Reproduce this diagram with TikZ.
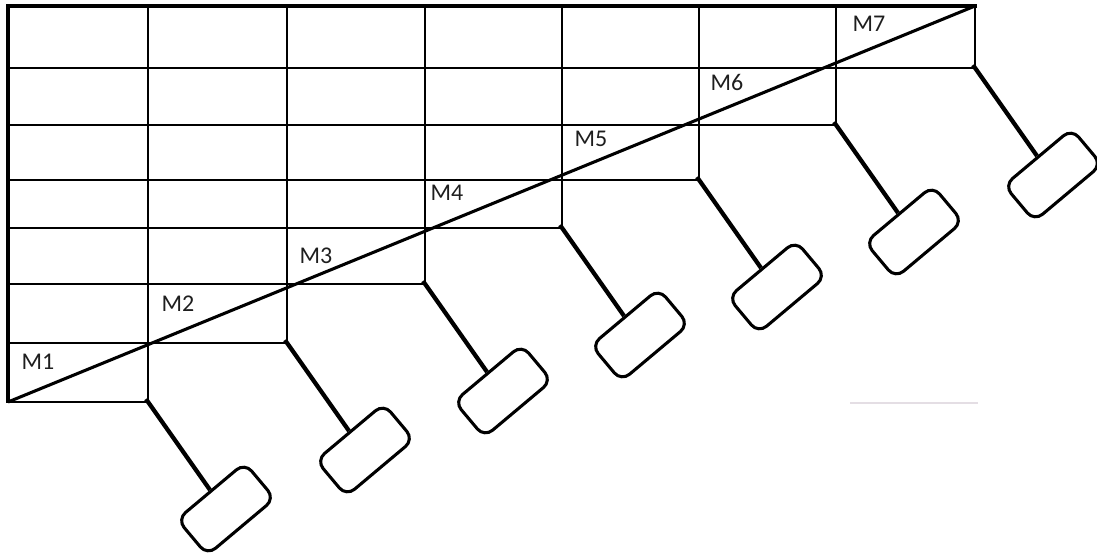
\documentclass[tikz,border=0pt]{standalone}
\usepackage{fontspec}
\setmainfont{Carlito}
\definecolor{ink}{RGB}{30,30,30}
\definecolor{faint}{RGB}{228,222,228}
\begin{document}
\begin{tikzpicture}[x=0.75pt,y=-0.75pt,
  gridline/.style={line width=1.5pt,black},
  border/.style={line width=2.4pt,black},
  diag/.style={line width=2.3pt,black},
  leg/.style={line width=3.2pt,black},
  pad/.style={draw,line width=2.3pt,rectangle,rounded corners=8pt,minimum width=66pt,minimum height=35pt,inner sep=0pt},
  lbl/.style={font=\fontsize{18}{20}\selectfont,text=ink,inner sep=0pt}]
\useasboundingbox (0,0) rectangle (1097,557);
% horizontal grid lines (staircase)
\draw[gridline] (8,68) -- (975,68);
\draw[gridline] (8,125) -- (836,125);
\draw[gridline] (8,180) -- (699,180);
\draw[gridline] (8,228) -- (562,228);
\draw[gridline] (8,284) -- (425,284);
\draw[gridline] (8,343) -- (287,343);
\draw[gridline] (8,402) -- (148,402);
% vertical grid lines
\draw[gridline] (148,6) -- (148,402);
\draw[gridline] (287,6) -- (287,343);
\draw[gridline] (425,6) -- (425,284);
\draw[gridline] (562,6) -- (562,228);
\draw[gridline] (699,6) -- (699,180);
\draw[gridline] (836,6) -- (836,125);
\draw[gridline] (975,6) -- (975,68);
% outer border
\draw[border] (977,6) -- (8,6) -- (8,403);
% diagonal
\coordinate (d0) at (8,402);
\coordinate (d1) at (975,6);
\draw[diag] (d0) -- (d1);
% faint line
\draw[faint,line width=1.2pt] (850,403) -- (978,403);
% legs and pads
\foreach \x/\y [count=\i] in {148/402,287/343,425/284,562/228,699/180,836/125,975/68}{
  \coordinate (c\i) at (\x-2,\y-3);
  \node[pad,rotate=40] (r\i) at (\x+78,\y+107) {};
  \draw[leg] (c\i) -- (r\i.north);
}
% labels
\node[lbl] (m1) at (38,362) {M1};
\node[lbl] (m2) at (178,304) {M2};
\node[lbl] (m3) at (316,256) {M3};
\node[lbl] (m4) at (447,193) {M4};
\node[lbl] (m5) at (591,139) {M5};
\node[lbl] (m6) at (727,82) {M6};
\node[lbl] (m7) at (869,24) {M7};
\end{tikzpicture}
\end{document}
